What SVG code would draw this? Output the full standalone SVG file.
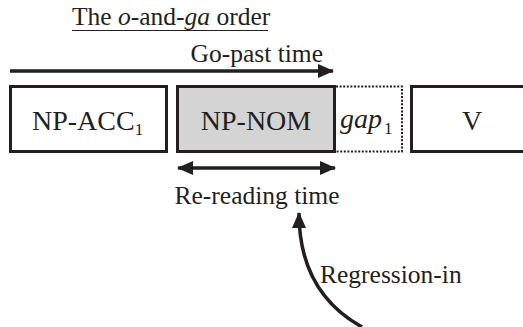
<svg xmlns="http://www.w3.org/2000/svg" width="523" height="327" viewBox="0 0 523 327" font-family="'Liberation Serif', 'DejaVu Serif', serif">
<defs>
<style>
text{font-family:'Liberation Serif','DejaVu Serif',serif;fill:#231f20}
.lbl{font-size:25.5px}
.box{font-size:28px}
.sub{font-size:17px}
.rect{fill:#fff;stroke:#231f20;stroke-width:3}
.line{stroke:#231f20;stroke-width:3.5;fill:none}
</style>
<marker id="ah" viewBox="0 0 16 14" refX="15" refY="7" markerWidth="16" markerHeight="14" markerUnits="userSpaceOnUse" orient="auto-start-reverse">
<path d="M0,0 L16,7 L0,14 Z" fill="#231f20"/>
</marker>
</defs>
<rect width="523" height="327" fill="#fff"/>
<g id="title">
<text class="lbl" x="72" y="25">The <tspan font-style="italic">o</tspan>-and-<tspan font-style="italic">ga</tspan> order</text>
<line x1="72" y1="30.5" x2="268" y2="30.5" stroke="#231f20" stroke-width="1.2"/>
</g>
<g id="np-acc">
<rect class="rect" x="10.5" y="86.5" width="156" height="65"/>
<text class="box" x="32" y="130">NP-ACC<tspan class="sub" dy="5">1</tspan></text>
</g>
<g id="np-nom">
<rect class="rect" x="177.5" y="86.5" width="157" height="65" style="fill:#d4d4d5"/>
<text class="box" x="256" y="130" text-anchor="middle">NP-NOM</text>
</g>
<g id="gap">
<path d="M336,86.5 H402 V151.5 H336" fill="none" stroke="#231f20" stroke-width="2" stroke-dasharray="2,1.6"/>
<text class="box" x="340" y="128" font-style="italic">gap</text>
<text class="sub" x="384" y="134">1</text>
</g>
<g id="v">
<rect class="rect" x="411.5" y="86.5" width="125" height="65"/>
<text class="box" x="472" y="130" text-anchor="middle">V</text>
</g>
<g id="connectors">
<line class="line" x1="10" y1="71" x2="333" y2="71" marker-end="url(#ah)"/>
<line class="line" x1="178" y1="168" x2="335" y2="168" marker-start="url(#ah)" marker-end="url(#ah)"/>
<path class="line" d="M362,327 Q299,292 299,213" marker-end="url(#ah)"/>
</g>
<g id="labels">
<text class="lbl" x="323" y="62" text-anchor="end">Go-past time</text>
<text class="lbl" x="257" y="204" text-anchor="middle">Re-reading time</text>
<text class="lbl" x="320" y="283">Regression-in</text>
</g>
</svg>
